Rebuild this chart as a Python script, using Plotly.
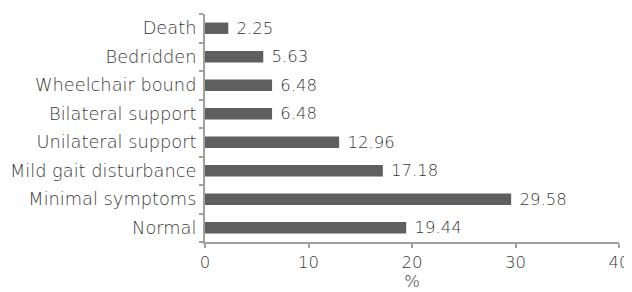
import plotly.graph_objects as go

categories = ["Normal", "Minimal symptoms", "Mild gait disturbance", "Unilateral support",
              "Bilateral support", "Wheelchair bound", "Bedridden", "Death"]
values = [19.44, 29.58, 17.18, 12.96, 6.48, 6.48, 5.63, 2.25]
x_ticks = [0, 10, 20, 30, 40]

FONT = "DejaVu Sans"

fig = go.Figure(go.Bar(
    y=categories, x=values, orientation="h",
    marker=dict(color="#5f5f5f", line=dict(width=0)),
    texttemplate="\u00a0%{x:.2f}", textposition="outside",
    textfont=dict(size=16.5, color="#383838", family=FONT, weight=200),
    cliponaxis=False, constraintext="none",
))

# the page body has an 8px margin, so the figure is 8px smaller than the window
fig.update_layout(
    width=624, height=284,
    margin=dict(l=197, r=13, t=6, b=50),
    plot_bgcolor="white", paper_bgcolor="white",
    font=dict(family=FONT, size=17.8, color="#383838", weight=200),
    bargap=0.6, showlegend=False,
)
fig.update_xaxes(range=[0, 40], tickvals=x_ticks, showgrid=False, zeroline=False,
                 showline=True, linecolor="#a0a0a0", linewidth=2, automargin=False,
                 ticks="outside", ticklen=4, tickcolor="#a0a0a0", tickwidth=2,
                 tickfont=dict(size=16.5), title=dict(text="%", standoff=4, font=dict(size=16.5)))
fig.update_yaxes(showgrid=False, zeroline=False, showline=True, linecolor="#a0a0a0",
                 linewidth=2, ticks="outside", ticklen=4, tickcolor="#a0a0a0", tickwidth=2,
                 tickson="boundaries", ticklabelstandoff=3, automargin=False)

fig.write_html("out.html")
